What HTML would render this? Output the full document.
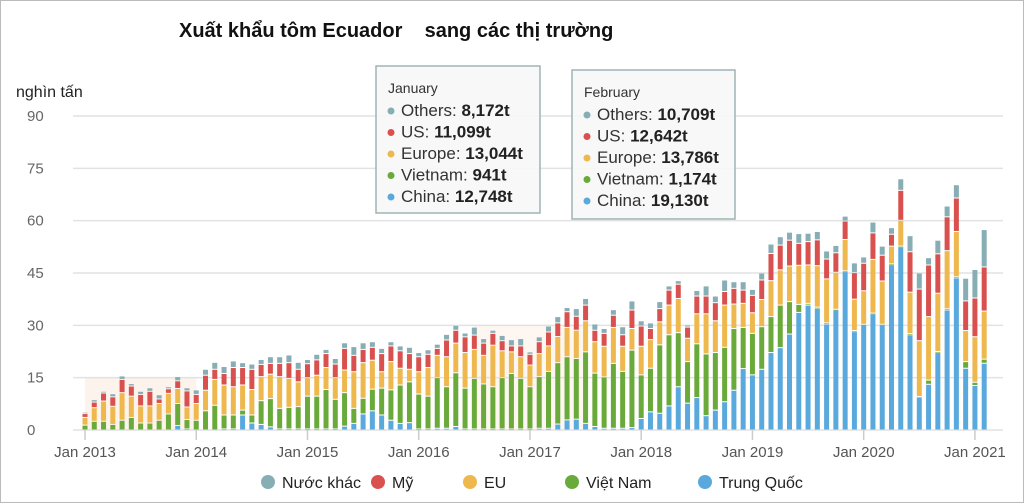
<!DOCTYPE html>
<html><head><meta charset="utf-8">
<style>
body{margin:0;background:#fff;}
#wrap{position:relative;width:1024px;height:503px;overflow:hidden;font-family:"Liberation Sans","Noto Sans CJK SC",sans-serif;box-sizing:border-box;border:1px solid #bbb;}
svg{position:absolute;left:0;top:0;}
</style></head>
<body>
<div id="wrap">
<svg id="chart" width="1024" height="503" xmlns="http://www.w3.org/2000/svg"></svg>
</div>
<script>
const months = ["Jan 2013","Jan 2014","Jan 2015","Jan 2016","Jan 2017","Jan 2018","Jan 2019","Jan 2020","Jan 2021"];
const yTicks = [0,15,30,45,60,75,90];
const china = [0,0,0,0,0,0,0,0,0,0,1.3,0.3, 0,0,0,0.3,0.3,4.3,2,1.6,0.9,0.3,0.3,0.3,
 0.3,0.3,0.3,0.3,1.1,1.9,4.6,5.5,4.3,2.8,1.9,2.1, 0.3,0.3,0.5,0.5,1,0.3,0.3,0.3,0.3,0.3,0.3,0.3,
 0.3,0.5,0.5,1.7,2.9,3.1,1.9,1,0.5,0.5,0.5,0.7, 3.3,5.2,4.8,6.9,12.4,7.7,9.3,4.1,5.7,8.1,11.4,17.6,
 15.8,17.4,22.2,23.6,27.5,33.7,35.8,34.9,30.4,34.4,45.4,28.2, 30.1,33.3,30.1,47.4,52.5,27.3,9.3,13.1,22.2,34.4,43.6,17.7, 12.748,19.13];
const vietnam = [1.4,2.5,2.5,1.6,2.8,3.6,2,2,2.8,4.6,6.3,2.7, 2.8,5.5,7.1,4,4,1.4,2.3,6.8,8.1,5.9,6.2,6.4,
 9.4,9.4,11.3,8.5,9.6,4.3,4.5,6.2,7.7,8.7,11,11.7, 10,9.4,14.5,11.9,15.4,11.7,14.5,12.9,12.1,14.7,15.9,14.5,
 12.1,14.8,16.3,17.6,18.1,17.4,20.5,15.3,14.7,18.6,16.3,22.2, 12.5,12.5,19.6,20.4,15.5,11.9,15.4,17.7,16.5,15.6,17.7,11.8,
 11.9,12.2,10.3,12.2,9.3,2.3,0.5,0.3,0.3,0.2,0.2,0.3, 0.2,0.2,0.2,0.2,0.2,0.3,0.3,1.2,0.3,0.3,0.3,1.9, 0.941,1.174];
const europe = [2.2,3.9,5.8,5.2,7.9,6.1,4.9,4.9,4.8,5.9,4.3,3.6, 4.8,5.9,7.4,8.6,8.1,7.2,7.3,6.9,7,9.1,8.3,7.1,
 5.3,6,6.3,6.2,6.5,10.5,10.2,8.3,4.7,8.1,4.8,3.6, 6.4,8.2,6.4,8.6,8.5,10.2,8.3,8.2,11.9,7.7,6.2,6.2,
 6.2,6.6,7.3,7.5,8.4,8.1,8.9,9,8.8,10.3,7.2,6.2, 8.2,8.2,6.6,8.5,9.8,6.7,8.6,11.5,9.1,12.1,7,6.9,
 5.9,7.8,10.3,10.1,10.2,11.2,11,11.9,12.6,10.6,9,9, 9.6,15.4,12.4,5.1,7.4,11.9,16,18.2,16.7,16.7,13,8.9, 13.044,13.786];
const us = [1.1,1.6,2.3,2.7,3.8,2.9,3.3,4.2,1.3,1.3,2.2,4.6, 2.6,4.3,2.9,3.3,5.5,5,5.8,3.5,3.1,3.8,4.5,3.6,
 4,4.4,4,3.9,6.2,4.7,3.8,3.7,5.2,4.5,5,4.5, 4.3,3.8,2,4.8,3.7,4.5,4.1,3.5,3.4,2.9,1.7,3.1,
 3.1,3.4,4,3.9,4.5,4,4.5,3.3,3.7,3.5,3.3,5.3, 5.8,3.2,3.8,4.3,4.1,3.2,5.1,5.1,5.2,3.9,4.5,3.8,
 5,5.6,7.8,7.1,7.4,6.3,6.7,7.4,5.7,5.6,5.3,7.6, 7.9,7.6,7.4,3.4,8.6,11.6,14.8,14.8,11.3,9.7,9.6,8.5, 11.099,12.642];
const others = [0.4,0.7,0.5,0.9,1,0.7,0.9,1,1.2,0.6,1.2,0.9, 1.3,1.7,2,2,1.9,1.4,1.5,1.4,1.9,1.9,2.2,2,
 1.2,1.6,1.2,1.6,1.6,2.5,1.9,1.6,1.5,1.2,1.4,1.8, 1.2,1.3,1.2,1.6,1.4,1.1,2.3,1.3,0.9,1.5,1.8,2.1,
 0.7,1.4,1.7,1.8,1.2,2.2,1.9,1.8,1.4,1.6,2.3,2.6, 1.5,1.6,2,1.2,1,0.6,1.6,2.9,1.9,3.3,1.9,2.4,
 1.7,2,2.7,2.4,2.3,2.8,2.4,2.4,2.3,2.1,1.4,2.8, 1.8,3.1,2.6,1.9,3.3,4.6,4.6,2.1,3.9,3.1,3.8,6.5, 8.172,10.709];
const seriesNames = ["china","vietnam","europe","us","others"];
const seriesColors = ["#5aa9dc","#6aaa3a","#eeb84f","#d9514f","#86aeb4"];
const legendLabels = ["Nước khác","Mỹ","EU","Việt Nam","Trung Quốc"];
const legendColors = ["#86aeb4","#d9514f","#eeb84f","#6aaa3a","#5aa9dc"];

const NS="http://www.w3.org/2000/svg";
const svg=document.getElementById('chart');
function mk(tag,attrs,parent){const e=document.createElementNS(NS,tag);for(const k in attrs)e.setAttribute(k,attrs[k]);(parent||svg).appendChild(e);return e;}
const x0=84, step=9.27, y0=429, pxPer=(429-115)/90;
const xPos=i=>x0+i*step;
const yPos=v=>y0-v*pxPer;

// title
let t=mk('text',{x:178,y:36,'font-size':20,'font-weight':'bold',fill:'#111'});

t.textContent="Xuất khẩu tôm Ecuador\u00A0\u00A0\u00A0 sang các thị trường";

t=mk('text',{x:15,y:96,'font-size':16,fill:'#222'});
t.textContent="nghìn tấn";

// shaded highlight regions
let r=mk('rect',{x:x0,y:yPos(15),width:step*12,height:yPos(0)-yPos(15),fill:'#fbeee4',opacity:0.7});

r=mk('rect',{x:xPos(42),y:yPos(30),width:step*12,height:yPos(0)-yPos(30),fill:'#fbeee4',opacity:0.5});


// grid
yTicks.forEach(v=>{
  const l=mk('line',{x1:72,x2:1002,y1:yPos(v),y2:yPos(v),stroke:'#e2e2e2','stroke-width':1.5});
  
  const tx=mk('text',{x:26,y:yPos(v)+5,'font-size':15,fill:'#666'});
  
  tx.textContent=v;
});
// x ticks
months.forEach((m,k)=>{
  const xx=xPos(k*12);
  const l=mk('line',{x1:xx,x2:xx,y1:y0,y2:y0+10,stroke:'#ccc','stroke-width':1.5});
  
  const tx=mk('text',{x:xx,y:456,'font-size':15,fill:'#555','text-anchor':'middle'});
  
  tx.textContent=m;
});
// bars
const data=[china,vietnam,europe,us,others];
for(let i=0;i<china.length;i++){
  let acc=0;
  data.forEach((s,si)=>{
    const v=s[i]; if(v<=0) return;
    const top=yPos(acc+v), bot=yPos(acc);
    const b=mk('rect',{x:xPos(i)-2.5,y:top+0.5,width:5,height:Math.max(bot-top-1,0.6),fill:seriesColors[si]});
    
    
    acc+=v;
  });
}
// legend
const lx=[267,377,469,571,704];
legendLabels.forEach((lab,k)=>{
  const c=mk('circle',{cx:lx[k],cy:481,r:7,fill:legendColors[k]});
  
  const tx=mk('text',{x:lx[k]+14,y:487,'font-size':16,fill:'#222'});
  
  tx.textContent=lab;
});
// tooltips
function tooltip(x,y,w,h,title,rows,name){
  const g=mk('g',{});
  
  mk('rect',{x:x,y:y,width:w,height:h,fill:'#f8f8f8','fill-opacity':0.93,stroke:'#9fb4b4','stroke-width':1.5},g);
  const tt=mk('text',{x:x+12,y:y+27,'font-size':14,fill:'#333'},g);tt.textContent=title;
  rows.forEach((rw,k)=>{
    const yy=y+50+k*21.5;
    mk('circle',{cx:x+15,cy:yy-5,r:3.5,fill:rw[2]},g);
    const tx=mk('text',{x:x+25,y:yy,'font-size':17,fill:'#333'},g);
    tx.textContent=rw[0]+": ";
    const b=mk('tspan',{'font-weight':'bold',fill:'#222'},tx);b.textContent=rw[1];
  });
}
tooltip(375,65,164,147,"January",[["Others","8,172t","#86aeb4"],["US","11,099t","#d9514f"],["Europe","13,044t","#eeb84f"],["Vietnam","941t","#6aaa3a"],["China","12,748t","#5aa9dc"]],"tooltip-january");
tooltip(571,69,163,149,"February",[["Others","10,709t","#86aeb4"],["US","12,642t","#d9514f"],["Europe","13,786t","#eeb84f"],["Vietnam","1,174t","#6aaa3a"],["China","19,130t","#5aa9dc"]],"tooltip-february");
</script>
</body></html>
